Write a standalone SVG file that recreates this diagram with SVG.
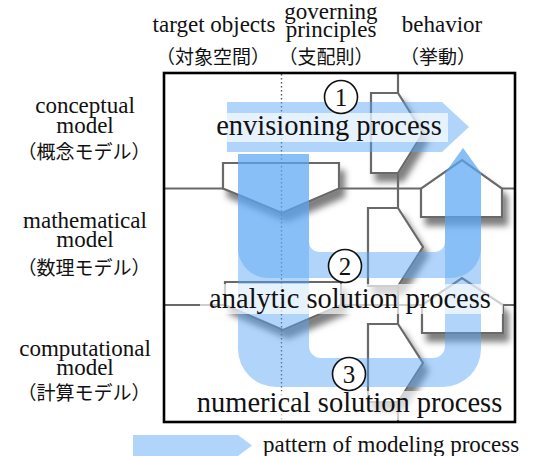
<svg xmlns="http://www.w3.org/2000/svg" width="544" height="456" viewBox="0 0 544 456">
  <defs>
    <filter id="shadow" x="-30%" y="-30%" width="170%" height="180%">
      <feDropShadow dx="5" dy="8" stdDeviation="3" flood-color="#000" flood-opacity="0.5"/>
    </filter>
    <style>
      .piece { fill:#fff; stroke:#696969; stroke-width:2.2; filter:url(#shadow); }
      .grid { stroke:#696969; stroke-width:2.2; fill:none; }
      .dots { stroke:#555; stroke-width:1.4; stroke-dasharray:1.4 2.6; fill:none; }
      .flow { fill:#5ca8f5; fill-opacity:0.48; }
      .tbox { fill:#fff; fill-opacity:0.68; }
      .serif { font-family:"Liberation Serif","Times New Roman",serif; fill:#111; text-anchor:middle; }
      .hdr { font-size:23px; }
      .proc { font-size:28.5px; }
      .jp { font-family:"Noto Sans CJK JP","Noto Sans",sans-serif; font-size:19px; fill:#111; text-anchor:middle; }
      .num circle { fill:#fff; stroke:#111; stroke-width:1.6; }
      .num text { font-family:"Liberation Serif","Times New Roman",serif; font-size:25px; fill:#111; text-anchor:middle; }
    </style>
  </defs>

  <rect width="544" height="456" fill="#fff"/>

  <!-- column headers -->
  <g id="headers">
    <text class="serif hdr" x="214" y="32">target objects</text>
    <text class="serif hdr" x="331" y="19">governing</text>
    <text class="serif hdr" x="331" y="37">principles</text>
    <text class="serif hdr" x="442" y="32">behavior</text>
    <text class="jp" x="213" y="64">（対象空間）</text>
    <text class="jp" x="326" y="64">（支配則）</text>
    <text class="jp" x="438" y="64">（挙動）</text>
  </g>

  <!-- row headers -->
  <g id="rows">
    <text class="serif hdr" x="85" y="113">conceptual</text>
    <text class="serif hdr" x="85" y="133">model</text>
    <text class="jp" x="84" y="159">（概念モデル）</text>
    <text class="serif hdr" x="85" y="228">mathematical</text>
    <text class="serif hdr" x="85" y="247">model</text>
    <text class="jp" x="84" y="275">（数理モデル）</text>
    <text class="serif hdr" x="85" y="356">computational</text>
    <text class="serif hdr" x="85" y="375">model</text>
    <text class="jp" x="84" y="400">（計算モデル）</text>
  </g>

  <!-- interlocking pieces -->
  <g id="pieces">
    <polygon id="piece-c-principles" class="piece" points="371,93 398,93 423,133 398,173 371,173"/>
    <polygon id="piece-cm-objects" class="piece" points="223,163 339,163 339,188.5 282,213 223,188.5"/>
    <polygon id="piece-cm-behavior" class="piece" points="421,217 421,188.5 462,160 502,188.5 502,217"/>
    <polygon id="piece-m-principles" class="piece" points="368,208 398,208 423,247 398,286 368,286"/>
    <polygon id="piece-mc-objects" class="piece" points="225,282 341,282 341,305 283,330 225,305"/>
    <polygon id="piece-mc-behavior" class="piece" points="422,333 422,305 462,278 503,305 503,333"/>
    <polygon id="piece-p-principles" class="piece" points="368,324 398,324 423,363 398,402 368,402"/>
  </g>

  <!-- grid lines between the pieces -->
  <g id="grid">
    <path class="grid" d="M398,73 V93 M398,173 V208 M398,286 V324 M398,402 V422"/>
    <path class="grid" d="M164,188.5 H223 M339,188.5 H421 M502,188.5 H515"/>
    <path class="grid" d="M164,305 H225 M341,305 H422 M503,305 H515"/>
    <path class="dots" d="M281.5,74 V421"/>
  </g>

  <!-- process flows -->
  <g id="connectors">
    <path id="flow-numerical" class="flow" d="M238,154 V349 A38,38 0 0 0 276,387 H443 A38,38 0 0 0 481,349 V173 L463,148 L445,173 V346 A12,12 0 0 1 433,358 H321 A12,12 0 0 1 309,346 V154 Z"/>
    <path id="flow-analytic" class="flow" d="M238,154 V248 A30,30 0 0 0 268,278 H451 A30,30 0 0 0 481,248 V173 L463,148 L445,173 V242 A10,10 0 0 1 435,252 H319 A10,10 0 0 1 309,242 V154 Z"/>
    <path id="flow-envisioning" class="flow" d="M227,102 H442 L469,127 L442,152 H227 Z"/>
  </g>

  <!-- frame -->
  <rect x="164" y="73" width="351" height="349" fill="none" stroke="#000" stroke-width="2.6"/>

  <!-- process labels -->
  <g id="label-envisioning">
    <rect class="tbox" x="212" y="113" width="236" height="29"/>
    <text class="serif proc" x="329" y="135">envisioning process</text>
  </g>
  <g id="label-analytic">
    <rect class="tbox" x="200" y="284" width="303" height="30"/>
    <text class="serif proc" x="350" y="308">analytic solution process</text>
  </g>
  <g id="label-numerical">
    <rect class="tbox" x="192" y="391" width="313" height="29"/>
    <text class="serif proc" x="349.5" y="412">numerical solution process</text>
  </g>

  <!-- step numbers -->
  <g id="step-1" class="num">
    <circle cx="341" cy="97" r="16.5"/>
    <text x="341" y="106">1</text>
  </g>
  <g id="step-2" class="num">
    <circle cx="345" cy="266" r="16.5"/>
    <text x="345" y="275">2</text>
  </g>
  <g id="step-3" class="num">
    <circle cx="349" cy="374" r="16.5"/>
    <text x="349" y="383">3</text>
  </g>

  <!-- legend -->
  <g id="legend">
    <path class="flow" d="M133,435 H238 L252,445.5 L238,456 H133 Z"/>
    <text class="serif hdr" x="263" y="452" text-anchor="start" style="text-anchor:start">pattern of modeling process</text>
  </g>
</svg>
